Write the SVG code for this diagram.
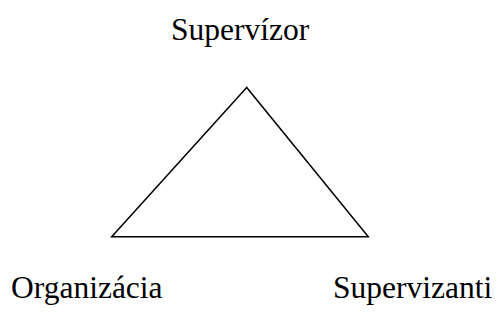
<svg xmlns="http://www.w3.org/2000/svg" width="496" height="323" viewBox="0 0 496 323">
<style>
text{font-family:"Liberation Serif","Times New Roman",serif;font-size:31.5px;fill:#000}
.tri{fill:#fff;stroke:#000;stroke-width:1.5;stroke-linejoin:miter}
</style>
<rect width="496" height="323" fill="#fff"/>
<g id="triangle"><polygon class="tri" points="246.7,87.5 111.7,236.8 368.3,236.8"/></g>
<g id="supervizor"><text x="171" y="40">Supervízor</text></g>
<g id="organizacia"><text x="11" y="298">Organizácia</text></g>
<g id="supervizanti"><text x="333" y="298">Supervizanti</text></g>
<g id="connectors"></g>
</svg>
